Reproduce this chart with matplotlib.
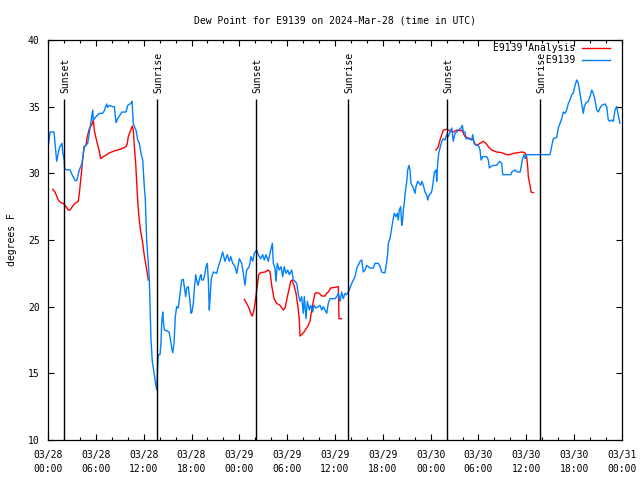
import numpy as np
import matplotlib
matplotlib.use("Agg")
import matplotlib.pyplot as plt

# ---------------- data (hours since 2024-03-28 00:00 UTC) ----------------
obs_hours = [0.09, 0.25, 0.75, 1.0, 1.09, 1.42, 1.76, 1.84, 2.04, 2.09, 2.76, 3.10, 3.42, 3.60, 3.93,
             4.26, 4.55, 4.98, 5.18, 5.39, 5.61, 5.68, 6.02, 6.44, 6.86, 7.06, 7.36, 7.49, 7.69, 8.12,
             8.32, 8.53, 8.74, 9.28, 9.78, 10.0, 10.41, 10.54, 10.70, 10.83, 11.04, 11.25, 11.45, 11.67,
             11.88, 12.08, 12.21, 12.29, 12.38, 12.58, 12.71, 12.80, 12.92, 13.08, 13.21, 13.38, 13.46,
             13.55, 13.64, 13.76, 13.84, 14.05, 14.17, 14.26, 14.39, 14.46, 14.59, 14.89, 15.18, 15.30,
             15.52, 15.64, 15.81, 15.97, 16.14, 16.34, 16.56, 16.77, 16.97, 17.10, 17.27, 17.40, 17.60,
             17.81, 17.94, 18.06, 18.23, 18.35, 18.53, 18.65, 18.82, 19.07, 19.19, 19.28, 19.48, 19.66,
             19.82, 19.98, 20.11, 20.23, 20.32, 20.48, 20.74, 21.16, 21.36, 21.58, 21.91, 22.20, 22.49,
             22.74, 22.92, 23.17, 23.46, 23.67, 24.00, 24.30, 24.50, 24.71, 24.92, 25.25, 25.46, 25.68,
             25.88, 26.18, 26.38, 26.68, 26.93, 27.13, 27.35, 27.63, 27.94, 28.14, 28.26, 28.47, 28.60,
             28.76, 29.01, 29.23, 29.44, 29.64, 29.85, 30.07, 30.27, 30.57, 30.77, 30.98, 31.20, 31.40,
             31.61, 31.82, 32.02, 32.15, 32.36, 32.53, 32.78, 32.95, 33.20, 33.37, 33.62, 33.91, 34.12,
             34.33, 34.53, 34.96, 35.16, 35.37, 36.0, 36.21, 36.42, 36.63, 36.84, 37.04, 37.26, 37.47,
             37.67, 37.88, 38.10, 38.30, 38.51, 38.63, 38.80, 38.92, 39.14, 39.35, 39.55, 39.77, 39.98,
             40.18, 40.39, 40.81, 41.02, 41.43, 41.65, 41.86, 42.06, 42.27, 42.49, 42.61, 42.69, 42.90,
             43.11, 43.31, 43.44, 43.65, 43.82, 43.94, 44.07, 44.24, 44.37, 44.49, 44.57, 44.69, 44.78,
             45.0, 45.12, 45.28, 45.41, 45.53, 45.75, 45.91, 46.04, 46.16, 46.38, 46.58, 46.75, 46.91,
             47.08, 47.29, 47.50, 47.63, 47.83, 48.04, 48.17, 48.33, 48.46, 48.67, 48.76, 48.88, 49.01,
             49.17, 49.39, 49.59, 49.80, 50.01, 50.21, 50.43, 50.64, 50.84, 51.05, 51.27, 51.47, 51.81,
             51.97, 52.10, 52.31, 52.44, 52.72, 53.15, 53.27, 53.44, 53.69, 53.98, 54.19, 54.32, 54.53,
             55.03, 55.23, 55.36, 55.53, 55.86, 56.28, 56.61, 56.91, 57.04, 58.04, 58.17, 58.58, 58.87,
             59.21, 59.33, 59.49, 59.71, 59.87, 60.04, 62.97, 63.18, 63.38, 63.81, 64.01, 64.22, 64.44,
             64.64, 64.85, 65.06, 65.27, 65.48, 65.69, 65.89, 66.11, 66.32, 66.52, 66.73, 66.95, 67.15,
             67.27, 67.45, 67.77, 67.99, 68.20, 68.40, 68.61, 68.83, 69.03, 69.24, 69.45, 69.87, 70.08,
             70.28, 70.50, 70.71, 70.91, 71.12, 71.33, 71.53, 71.74]
obs_dewpt = [32.25, 33.1, 33.1, 31.5, 30.9, 31.9, 32.25, 31.6, 31.0, 30.3, 30.25, 29.8, 29.45, 29.45, 30.25,
             30.75, 32.0, 32.25, 33.0, 33.9, 34.75, 34.0, 34.25, 34.5, 34.5, 34.7, 35.2, 34.95, 35.1, 35.0,
             35.0, 33.8, 34.1, 34.6, 34.6, 35.1, 35.25, 35.4, 33.75, 33.5, 33.25, 32.5, 32.25, 31.5,
             31.0, 29.0, 28.0, 26.5, 24.9, 23.25, 22.0, 20.0, 17.5, 15.9, 15.4, 14.75, 14.4,
             14.0, 13.75, 15.75, 16.4, 16.4, 17.25, 18.75, 19.6, 19.0, 18.25, 18.2, 18.1, 17.75,
             16.9, 16.55, 17.25, 19.25, 20.0, 19.9, 21.0, 22.0, 22.05, 21.5, 20.75, 21.4, 21.5,
             20.4, 19.5, 19.6, 20.25, 21.25, 22.4, 22.0, 21.6, 22.25, 22.4, 22.0, 22.0, 22.4,
             23.0, 23.25, 22.0, 19.75, 20.5, 22.1, 22.6, 22.5, 23.0, 23.4, 24.1, 23.4, 23.9,
             23.4, 23.75, 23.25, 23.0, 22.5, 23.6, 23.25, 22.5, 21.6, 22.75, 23.0, 23.75, 23.4,
             24.0, 24.25, 23.9, 23.6, 23.9, 23.5, 23.9, 23.4, 24.25, 24.75, 23.25, 22.9, 21.9,
             23.25, 22.75, 23.0, 22.25, 23.0, 22.5, 22.75, 22.4, 22.75, 22.0, 21.9, 21.75, 20.9,
             20.4, 20.75, 19.5, 20.75, 19.1, 20.4, 19.75, 20.1, 19.6, 20.1, 19.9, 20.0, 20.1,
             19.75, 20.0, 19.5, 20.25, 20.6, 20.6, 20.75, 21.0, 20.4, 21.1, 20.6, 21.0, 20.9,
             21.1, 21.4, 21.75, 22.0, 22.25, 22.6, 23.0, 23.1, 23.4, 23.5, 22.6, 22.75, 23.1,
             23.0, 22.9, 22.9, 23.25, 23.25, 23.0, 22.6, 22.55, 22.55, 23.4, 24.0, 24.75, 25.1,
             25.9, 26.6, 27.0, 26.75, 27.0, 26.5, 27.25, 27.5, 26.1, 26.5, 27.25, 27.75, 28.4,
             29.4, 30.25, 30.6, 30.25, 29.25, 29.0, 28.75, 28.5, 29.0, 29.4, 29.25, 29.1, 29.4,
             29.1, 28.6, 28.4, 28.0, 28.4, 28.5, 28.75, 29.4, 30.1, 30.25, 29.4, 30.75, 31.5,
             31.9, 32.4, 32.6, 32.5, 32.9, 32.75, 33.1, 33.4, 32.4, 33.0, 33.1, 33.25, 33.4,
             33.6, 33.1, 33.1, 32.6, 32.6, 32.5, 32.9, 32.25, 32.1, 32.1, 31.75, 31.0, 31.25,
             31.25, 31.0, 30.4, 30.5, 30.6, 30.6, 30.9, 30.75, 29.9, 29.9, 30.1, 30.25, 30.1,
             30.1, 30.4, 31.0, 31.4, 31.1, 31.4, 31.4, 32.0, 32.6, 32.7, 33.4, 33.75, 34.1,
             34.6, 34.5, 34.75, 35.25, 35.5, 35.9, 36.0, 36.6, 37.0, 36.75, 36.0, 35.25, 34.5,
             35.0, 35.25, 35.4, 35.75, 36.25, 36.0, 35.5, 34.75, 34.6, 34.9, 35.1, 35.2, 35.0,
             34.0, 33.9, 34.0, 33.9, 34.75, 35.0, 34.4, 33.75]

ana_hours = [0.59, 0.88, 1.29, 1.59, 1.92, 2.26, 2.55, 2.76, 3.05, 3.39, 3.80, 3.93, 4.10, 4.23, 4.35,
             4.52, 4.77, 4.93, 5.14, 5.27, 5.48, 5.68, 5.81, 5.98, 6.18, 6.40, 6.61, 6.94, 7.36, 7.56,
             7.99, 8.40, 9.03, 9.45, 9.78, 9.95, 10.07, 10.29, 10.57, 10.70, 10.83, 11.0, 11.20, 11.33,
             11.45, 11.63, 11.75, 11.88, 12.04, 12.17, 12.29, 12.38, 12.58,
             18.0,
             24.62, 24.92, 25.21, 25.42, 25.63, 25.84, 26.0, 26.25, 26.43, 26.68, 27.22, 27.63, 27.85,
             28.06, 28.35, 28.69, 29.10, 29.52, 29.73, 29.94, 30.14, 30.44, 30.61, 30.86, 31.11, 31.40,
             31.52, 31.61, 31.82, 32.11, 32.45, 32.65, 32.86, 33.08, 33.28, 33.49, 33.71, 34.03, 34.33,
             34.75, 34.96, 35.16, 35.46, 36.0, 36.42, 36.5, 36.84,
             42.0,
             48.67, 48.96, 49.17, 49.39, 49.59, 50.01, 50.43, 50.84, 51.27, 51.68, 51.89, 52.10, 52.31,
             52.94, 53.35, 53.56, 53.78, 54.19, 54.60, 54.94, 55.23, 55.66, 56.28, 56.91, 57.54, 57.95,
             58.37, 58.99, 59.41, 59.83, 60.04, 60.17, 60.25, 60.46, 60.59, 60.88]
ana_dewpt = [28.8, 28.6, 28.0, 27.8, 27.75, 27.5, 27.25, 27.25, 27.5, 27.75, 27.9, 28.5, 29.5, 30.25, 31.0,
             32.0, 32.1, 32.75, 33.25, 33.5, 33.6, 34.0, 33.25, 32.75, 32.25, 31.75, 31.1, 31.25, 31.4, 31.5,
             31.6, 31.7, 31.8, 31.9, 32.0, 32.25, 32.75, 33.1, 33.55, 33.25, 32.0, 30.75, 28.5, 27.25,
             26.5, 25.6, 25.25, 24.75, 24.0, 23.5, 23.1, 22.75, 22.0,
             np.nan,
             20.55, 20.25, 19.9, 19.5, 19.3, 19.75, 20.4, 21.6, 22.4, 22.55, 22.6, 22.75, 22.6,
             21.6, 20.6, 20.25, 20.1, 19.75, 19.9, 20.5, 21.1, 21.9, 22.0, 21.6, 21.0, 19.75,
             19.0, 17.8, 17.9, 18.1, 18.4, 18.6, 18.9, 19.75, 20.4, 21.0, 21.05, 21.0, 20.8,
             20.8, 21.0, 21.1, 21.4, 21.45, 21.5, 19.1, 19.1,
             np.nan,
             31.75, 32.0, 32.5, 32.9, 33.25, 33.3, 33.2, 33.1, 33.25, 33.2, 33.25, 33.0, 32.75,
             32.6, 32.5, 32.2, 32.1, 32.25, 32.4, 32.25, 32.0, 31.75, 31.6, 31.55, 31.4, 31.4,
             31.5, 31.55, 31.6, 31.55, 31.25, 30.5, 29.75, 29.1, 28.6, 28.55]

sun_hours = [2.0, 13.7, 26.1, 37.6, 50.1, 61.7]
sun_labels = ["Sunset", "Sunrise", "Sunset", "Sunrise", "Sunset", "Sunrise"]

tick_hours = [0, 6, 12, 18, 24, 30, 36, 42, 48, 54, 60, 66, 72]
tick_labels = ["03/28\n00:00", "03/28\n06:00", "03/28\n12:00", "03/28\n18:00",
               "03/29\n00:00", "03/29\n06:00", "03/29\n12:00", "03/29\n18:00",
               "03/30\n00:00", "03/30\n06:00", "03/30\n12:00", "03/30\n18:00",
               "03/31\n00:00"]
y_ticks = [10, 15, 20, 25, 30, 35, 40]

# ---------------- plot ----------------
plt.rcParams['font.family'] = ['DejaVu Sans Mono']
plt.rcParams['font.size'] = 7

fig = plt.figure(figsize=(6.4, 4.8), dpi=100)
ax = fig.add_axes([48/640, 40/480, 574/640, 400/480])

ax.plot(ana_hours, ana_dewpt, color='#ff0000', lw=1.0, label='E9139 Analysis')
ax.plot(obs_hours, obs_dewpt, color='#0080ff', lw=1.0, label='         E9139')

for h, lab in zip(sun_hours, sun_labels):
    ax.vlines(h, 10, 35.55, color='black', lw=1.0)
    ax.text(h + 0.15, 36.0, lab, rotation=90, ha='center', va='bottom', fontsize=7)

ax.set_xlim(0, 72)
ax.set_ylim(10, 40)
ax.set_xticks(tick_hours)
ax.set_xticklabels(tick_labels, linespacing=1.55)
ax.set_xticks(np.arange(0, 73, 2), minor=True)
ax.set_yticks(y_ticks)
ax.tick_params(axis='both', which='major', direction='in', length=4.5, width=0.8,
               top=True, right=True)
ax.tick_params(axis='x', which='minor', direction='in', length=2.2, width=0.8, top=True)
ax.tick_params(axis='x', which='major', pad=7)
ax.tick_params(axis='y', which='major', pad=6)
for s in ax.spines.values():
    s.set_linewidth(0.9)

ax.set_ylabel('degrees F', labelpad=8)
ax.set_title('Dew Point for E9139 on 2024-Mar-28 (time in UTC)', fontsize=7, pad=12)

leg = ax.legend(loc='upper right', bbox_to_anchor=(1 - 12/574, 1 - 3/400), frameon=False,
                markerfirst=False, handlelength=2.9, handletextpad=0.7, labelspacing=0.25,
                borderpad=0, borderaxespad=0, fontsize=7)

fig.savefig('out.png', dpi=100)
